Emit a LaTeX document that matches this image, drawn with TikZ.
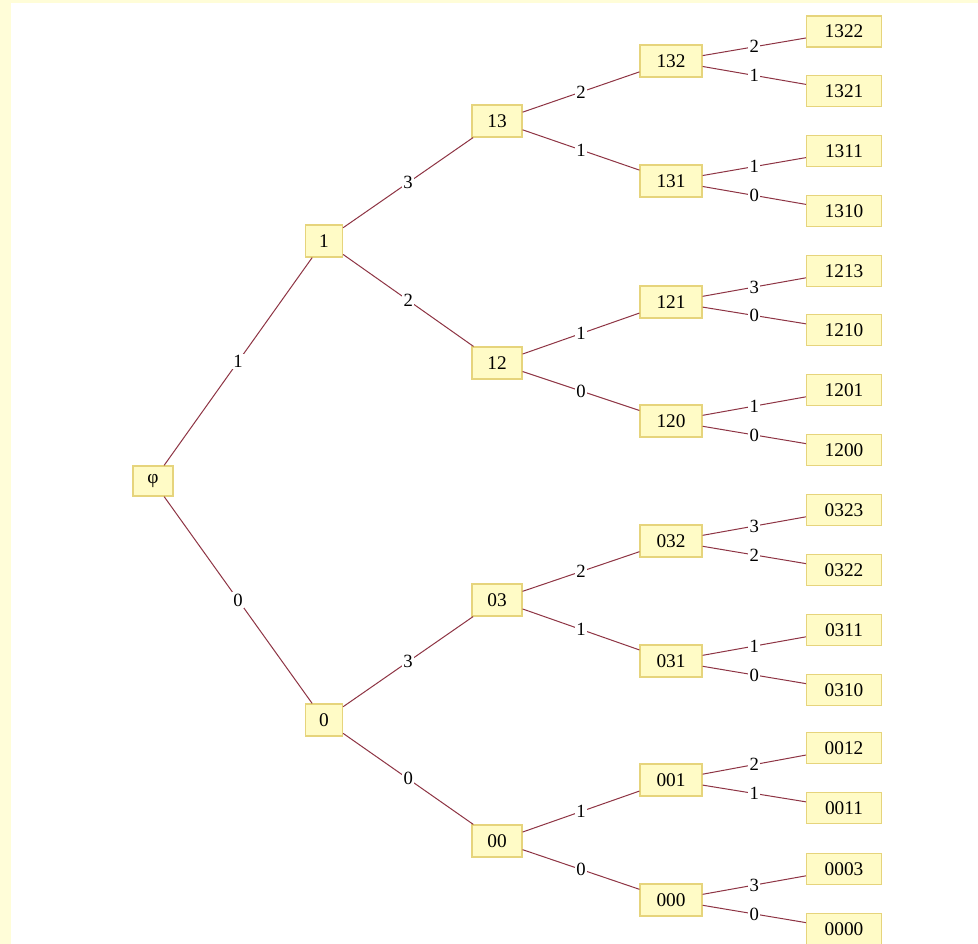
\documentclass[tikz,border=0pt]{standalone}
\usepackage{fontspec}
\setmainfont{Liberation Serif}
\definecolor{boxfill}{HTML}{FFFBC6}
\definecolor{boxline}{HTML}{E6D47C}
\definecolor{edgecol}{HTML}{8E3444}
\definecolor{bgstrip}{HTML}{FFFDD8}
\tikzset{
  box/.style={draw=boxline, fill=boxfill, line width=0.9pt, inner sep=0pt, font=\fontsize{14.5}{16}\selectfont},
  rootbox/.style={box, minimum width=30pt, minimum height=22.5pt},
  lvla/.style={box, minimum width=27.75pt, minimum height=24pt},
  lvlb/.style={box, minimum width=37.5pt, minimum height=24pt},
  lvlc/.style={box, minimum width=46.5pt, minimum height=24pt},
  leaf/.style={box, minimum width=56.25pt, minimum height=23.25pt},
  edge/.style={draw=edgecol, line width=0.75pt},
  elab/.style={fill=white, inner sep=1pt, font=\fontsize{14}{16}\selectfont, midway}
}
\begin{document}
\begin{tikzpicture}[x=0.75pt, y=-0.75pt]
\fill[bgstrip] (0,0) rectangle (978,944);
\fill[white] (11,3.5) rectangle (978,944);
\useasboundingbox (0,0) rectangle (978,944);
% nodes
\node[rootbox] (r) at (153,481) {φ};
\node[lvla] (n1) at (324,241) {1};
\node[lvla] (n0) at (324,720) {0};
\node[lvlb] (n13) at (497,121) {13};
\node[lvlb] (n12) at (497,363) {12};
\node[lvlb] (n03) at (497,600) {03};
\node[lvlb] (n00) at (497,841) {00};
\node[lvlc] (n132) at (671,61) {132};
\node[lvlc] (n131) at (671,181) {131};
\node[lvlc] (n121) at (671,302) {121};
\node[lvlc] (n120) at (671,421) {120};
\node[lvlc] (n032) at (671,541) {032};
\node[lvlc] (n031) at (671,661) {031};
\node[lvlc] (n001) at (671,780) {001};
\node[lvlc] (n000) at (671,900) {000};
\node[leaf] (l1322) at (844,31.5) {1322};
\node[leaf] (l1321) at (844,91) {1321};
\node[leaf] (l1311) at (844,151) {1311};
\node[leaf] (l1310) at (844,211) {1310};
\node[leaf] (l1213) at (844,271) {1213};
\node[leaf] (l1210) at (844,330) {1210};
\node[leaf] (l1201) at (844,390) {1201};
\node[leaf] (l1200) at (844,450) {1200};
\node[leaf] (l0323) at (844,510) {0323};
\node[leaf] (l0322) at (844,570) {0322};
\node[leaf] (l0311) at (844,630) {0311};
\node[leaf] (l0310) at (844,690) {0310};
\node[leaf] (l0012) at (844,748) {0012};
\node[leaf] (l0011) at (844,808) {0011};
\node[leaf] (l0003) at (844,869) {0003};
\node[leaf] (l0000) at (844,929) {0000};
% edges
\draw[edge] (r) -- node[elab] {1} (n1);
\draw[edge] (r) -- node[elab] {0} (n0);
\draw[edge] (n1) -- node[elab] {3} (n13);
\draw[edge] (n1) -- node[elab] {2} (n12);
\draw[edge] (n0) -- node[elab] {3} (n03);
\draw[edge] (n0) -- node[elab] {0} (n00);
\draw[edge] (n13) -- node[elab] {2} (n132);
\draw[edge] (n13) -- node[elab] {1} (n131);
\draw[edge] (n12) -- node[elab] {1} (n121);
\draw[edge] (n12) -- node[elab] {0} (n120);
\draw[edge] (n03) -- node[elab] {2} (n032);
\draw[edge] (n03) -- node[elab] {1} (n031);
\draw[edge] (n00) -- node[elab] {1} (n001);
\draw[edge] (n00) -- node[elab] {0} (n000);
\draw[edge] (n132) -- node[elab] {2} (l1322);
\draw[edge] (n132) -- node[elab] {1} (l1321);
\draw[edge] (n131) -- node[elab] {1} (l1311);
\draw[edge] (n131) -- node[elab] {0} (l1310);
\draw[edge] (n121) -- node[elab] {3} (l1213);
\draw[edge] (n121) -- node[elab] {0} (l1210);
\draw[edge] (n120) -- node[elab] {1} (l1201);
\draw[edge] (n120) -- node[elab] {0} (l1200);
\draw[edge] (n032) -- node[elab] {3} (l0323);
\draw[edge] (n032) -- node[elab] {2} (l0322);
\draw[edge] (n031) -- node[elab] {1} (l0311);
\draw[edge] (n031) -- node[elab] {0} (l0310);
\draw[edge] (n001) -- node[elab] {2} (l0012);
\draw[edge] (n001) -- node[elab] {1} (l0011);
\draw[edge] (n000) -- node[elab] {3} (l0003);
\draw[edge] (n000) -- node[elab] {0} (l0000);
\end{tikzpicture}
\end{document}
